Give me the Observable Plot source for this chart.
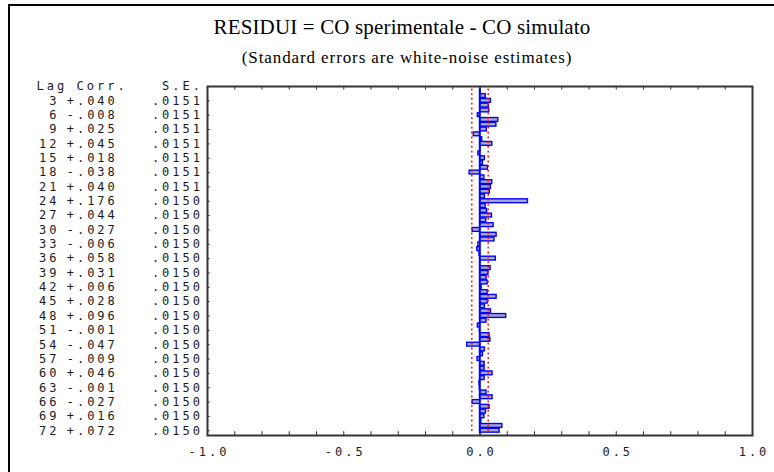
<!DOCTYPE html>
<html><head><meta charset="utf-8">
<script src="https://cdn.jsdelivr.net/npm/d3@7"></script>
<script src="https://cdn.jsdelivr.net/npm/@observablehq/plot@0.6"></script>
<style>
html,body{margin:0;padding:0;background:#fff;}
#wrap{position:relative;width:774px;height:472px;overflow:hidden;background:#fff;}
#chart{position:absolute;left:0;top:0;}
#chart svg text{letter-spacing:3px;}
#frame{position:absolute;left:8px;top:4px;width:900px;height:600px;border-left:2px solid #000;border-top:2px solid #000;}
.ttl{position:absolute;left:0;text-align:center;font-family:"Liberation Serif",serif;color:#000;white-space:nowrap;}
#t1{width:804px;top:17px;font-size:21px;line-height:21px;letter-spacing:0.15px;}
#t2{width:814px;top:49px;font-size:17px;line-height:17px;letter-spacing:0.9px;}
</style>
</head><body>
<div id="wrap">
  <div id="chart"></div>
  <div id="frame"></div>
  <div class="ttl" id="t1">RESIDUI = CO sperimentale - CO simulato</div>
  <div class="ttl" id="t2">(Standard errors are white-noise estimates)</div>
</div>
<script>
// Lags 1..72
const lags = [1,2,3,4,5,6,7,8,9,10,11,12,13,14,15,16,17,18,19,20,21,22,23,24,
  25,26,27,28,29,30,31,32,33,34,35,36,37,38,39,40,41,42,43,44,45,46,47,48,
  49,50,51,52,53,54,55,56,57,58,59,60,61,62,63,64,65,66,67,68,69,70,71,72];
// Autocorrelations (every 3rd read from labels, others estimated from bars)
const corr = [0.002,0.021,0.040,0.032,0.034,-0.008,0.067,0.060,0.025,-0.023,0.008,0.045,
  0.002,-0.006,0.018,0.011,0.029,-0.038,0.016,0.045,0.040,0.036,0.018,0.176,
  0.021,0.026,0.044,0.023,0.050,-0.027,0.061,0.053,-0.006,-0.010,-0.002,0.058,
  0.001,0.039,0.031,0.024,0.028,0.006,0.028,0.061,0.028,0.018,0.040,0.096,
  0.024,-0.008,-0.001,0.035,0.038,-0.047,0.018,0.011,-0.009,0.017,0.017,0.046,
  0.017,-0.002,-0.001,0.024,0.046,-0.027,0.035,0.022,0.016,0.005,0.082,0.072];
// Labelled rows
const labelLags = [3,6,9,12,15,18,21,24,27,30,33,36,39,42,45,48,51,54,57,60,63,66,69,72];
const corrLabels = ["+.040","-.008","+.025","+.045","+.018","-.038","+.040","+.176",
  "+.044","-.027","-.006","+.058","+.031","+.006","+.028","+.096","-.001","-.047",
  "-.009","+.046","-.001","-.027","+.016","+.072"];
const seLabels = [".0151",".0151",".0151",".0151",".0151",".0151",".0151",".0150",
  ".0150",".0150",".0150",".0150",".0150",".0150",".0150",".0150",".0150",".0150",
  ".0150",".0150",".0150",".0150",".0150",".0150"];
// White-noise limits (±2·S.E.)
const limits = [-0.0301, 0.0301];
// Axis ticks
const xTicks = [-1, -0.5, 0, 0.5, 1];
const xTickLabels = ["-1.0","-0.5","0.0","0.5","1.0"];
const minorTicks = [-1,-0.9,-0.8,-0.7,-0.6,-0.5,-0.4,-0.3,-0.2,-0.1,0,0.1,0.2,0.3,0.4,0.5,0.6,0.7,0.8,0.9,1];

const data = lags.map((l, i) => ({lag: l, corr: corr[i]}));
const rows = labelLags.map((l, i) => ({lag: l, c: corrLabels[i], se: seLabels[i]}));
const xlab = xTicks.map((v, i) => ({v, t: xTickLabels[i]}));

const mono = "DejaVu Sans Mono, Liberation Mono, monospace";
const ink = "#1a1a1a";
const fs = 12;

const chart = Plot.plot({
  width: 774,
  height: 472,
  marginLeft: 207,
  marginRight: 22,
  marginTop: 86,
  marginBottom: 37,
  style: {background: "transparent", fontFamily: mono},
  x: {domain: [-1, 1], axis: null},
  y: {domain: [73, 0], axis: null},
  marks: [
    Plot.rectX(data, {x1: 0, x2: "corr", y1: d => d.lag - 0.4, y2: d => d.lag + 0.4,
      fill: "#ababc2", stroke: "#0000ff", strokeWidth: 1.4}),
    Plot.ruleX([0], {stroke: "#0000ff", strokeWidth: 1.5}),
    Plot.ruleX(limits, {y1: 0.5, y2: 72.6, stroke: "#ff0000", strokeWidth: 1.5, strokeDasharray: "1.8,3"}),
    Plot.frame({stroke: "#333", strokeWidth: 2}),
    Plot.ruleX(minorTicks, {x: d => d, y1: 0, y2: 0.75, stroke: "#333"}),
    Plot.ruleX(minorTicks, {x: d => d, y1: 73, y2: 72.2, stroke: "#333"}),
    Plot.ruleY(labelLags, {y: d => d, x1: -1, x2: -0.99, stroke: "#333"}),
    Plot.text(xlab, {x: "v", text: "t", frameAnchor: "bottom", dy: 20.5, dx: 1.5,
      fontSize: fs, fontFamily: mono, fill: ink}),
    Plot.text(rows, {x: () => -1, y: "lag", text: d => String(d.lag), textAnchor: "end", dx: -148.1,
      fontSize: fs, fontFamily: mono, fill: ink}),
    Plot.text(rows, {x: () => -1, y: "lag", text: "c", textAnchor: "start", dx: -140.8,
      fontSize: fs, fontFamily: mono, fill: ink}),
    Plot.text(rows, {x: () => -1, y: "lag", text: "se", textAnchor: "end", dx: -4.5,
      fontSize: fs, fontFamily: mono, fill: ink}),
    Plot.text(["Lag"], {x: () => -1, y: () => 0, text: d => d, textAnchor: "start", dx: -171, dy: 0,
      fontSize: fs, fontFamily: mono, fill: ink}),
    Plot.text(["Corr."], {x: () => -1, y: () => 0, text: d => d, textAnchor: "start", dx: -131, dy: 0,
      fontSize: fs, fontFamily: mono, fill: ink}),
    Plot.text(["S.E."], {x: () => -1, y: () => 0, text: d => d, textAnchor: "end", dx: -4.5, dy: 0,
      fontSize: fs, fontFamily: mono, fill: ink})
  ]
});
document.getElementById("chart").appendChild(chart);
</script>
</body></html>
